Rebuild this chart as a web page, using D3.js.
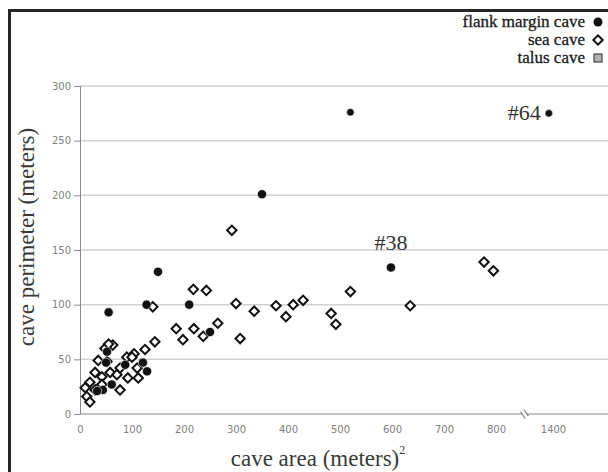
<!DOCTYPE html>
<html>
<head>
<meta charset="utf-8">
<script src="https://cdn.jsdelivr.net/npm/d3@7"></script>
<style>
  html, body { margin: 0; padding: 0; background: #fff; }
  svg { display: block; }
</style>
</head>
<body>
<svg id="chart" width="608" height="472"></svg>
<script>
// Cave area (m²) and perimeter (m) by cave type
const flankArea  = [520, 1392, 350, 598, 150, 55, 128, 210, 250, 52, 50, 87, 121, 129, 61, 44, 33];
const flankPerim = [276,  275, 201, 134, 130, 93, 100, 100,  75, 57, 47, 45,  47,  39, 27, 22, 21];

const seaArea  = [292, 218, 243, 300, 335, 377, 396, 410, 429, 483, 492, 520, 635, 777, 795,
                  185, 219, 198, 237, 265, 308, 140, 144, 125, 104, 90, 63, 48, 35, 52,
                  77, 110, 58, 29, 42, 71, 92, 112, 19, 42, 10, 29, 13, 19, 77, 55, 100];
const seaPerim = [168, 114, 113, 101, 94, 99, 89, 100, 104, 92, 82, 112, 99, 139, 131,
                  78, 78, 68, 71, 83, 69, 98, 66, 59, 55, 52, 63, 60, 49, 48,
                  42, 42, 38, 38, 34, 36, 33, 33, 29, 27, 24, 22, 16, 11, 22, 64, 52];

const talusArea = [];
const talusPerim = [];

const xTicks = [0, 100, 200, 300, 400, 500, 600, 700, 800, 1400];
const yTicks = [0, 50, 100, 150, 200, 250, 300];

const legendLabels = ["flank margin cave", "sea cave", "talus cave"];
const callouts = [{ label: "#38", area: 598, perim: 134 }, { label: "#64", area: 1392, perim: 275 }];

const svg = d3.select("#chart");
const serif = "'Liberation Serif', 'Times New Roman', serif";
const sans = "'DejaVu Sans', sans-serif";

// Broken x scale: 0–850 then jump to 1350+
const x = d3.scaleLinear().domain([0, 850, 1350, 1600]).range([80, 522, 527, 657]);
const y = d3.scaleLinear().domain([0, 300]).range([414, 86]);

// frame
svg.append("rect").attr("x", 9.5).attr("y", 10.5).attr("width", 700).attr("height", 600)
  .attr("fill", "none").attr("stroke", "#262626").attr("stroke-width", 3);

// gridlines
svg.append("g").selectAll("line").data(yTicks.filter(d => d > 0)).join("line")
  .attr("x1", 80).attr("x2", 608)
  .attr("y1", d => y(d)).attr("y2", d => y(d))
  .attr("stroke", "#d2d2d2").attr("stroke-width", 1.5);

// y axis
const yAxis = svg.append("g").attr("transform", "translate(80,0)")
  .call(d3.axisLeft(y).tickValues(yTicks).tickSize(6).tickPadding(3));
yAxis.select(".domain").attr("stroke", "#8a8a8a");
yAxis.selectAll(".tick line").attr("stroke", "#8a8a8a");
yAxis.selectAll("text").attr("fill", "#808080").attr("font-family", sans).attr("font-size", 10);

// x axis
const xAxis = svg.append("g").attr("transform", "translate(0,414)")
  .call(d3.axisBottom(x).tickValues(xTicks).tickFormat(d3.format("d")).tickSize(0).tickPadding(12));
xAxis.select(".domain").attr("d", "M80,0H608").attr("stroke", "#8a8a8a");
xAxis.selectAll("text").attr("fill", "#808080").attr("font-family", sans).attr("font-size", 10);

// axis break mark
const bx = (x(850) + x(1350)) / 2;
const brk = svg.append("g").attr("transform", `translate(${bx},414) rotate(-35)`);
brk.append("rect").attr("x", -2).attr("y", -4).attr("width", 4).attr("height", 8).attr("fill", "#fff");
brk.append("line").attr("x1", -2).attr("x2", -2).attr("y1", -4).attr("y2", 4).attr("stroke", "#777");
brk.append("line").attr("x1", 2).attr("x2", 2).attr("y1", -4).attr("y2", 4).attr("stroke", "#777");

// axis titles
svg.append("text").attr("transform", "translate(34,237) rotate(-90)")
  .attr("text-anchor", "middle").attr("font-family", serif).attr("font-size", 23)
  .attr("fill", "#3a3a3a").text("cave perimeter (meters)");
const xt = svg.append("text").attr("x", 318).attr("y", 466)
  .attr("text-anchor", "middle").attr("font-family", serif).attr("font-size", 23)
  .attr("fill", "#3a3a3a");
xt.append("tspan").text("cave area (meters)");
xt.append("tspan").attr("dy", -12).attr("font-size", 12).text("2");

// markers
const diamond = d3.symbol().type(d3.symbolSquare).size(44);

svg.append("g").selectAll("path")
  .data(seaArea.map((a, i) => [a, seaPerim[i]])).join("path")
  .attr("d", diamond)
  .attr("transform", d => `translate(${x(d[0])},${y(d[1])}) rotate(45)`)
  .attr("fill", "#fff").attr("stroke", "#111").attr("stroke-width", 2);

svg.append("g").selectAll("circle")
  .data(flankArea.map((a, i) => [a, flankPerim[i]])).join("circle")
  .attr("cx", d => x(d[0])).attr("cy", d => y(d[1]))
  .attr("r", d => d[1] > 250 ? 3.8 : 4.6)
  .attr("fill", "#111").attr("stroke", "#fff").attr("stroke-width", 0.6);

svg.append("g").selectAll("rect")
  .data(talusArea.map((a, i) => [a, talusPerim[i]])).join("rect")
  .attr("x", d => x(d[0]) - 4).attr("y", d => y(d[1]) - 4)
  .attr("width", 8).attr("height", 8).attr("fill", "#aaa").attr("stroke", "#333");

// callouts
svg.append("text").attr("x", x(callouts[0].area)).attr("y", y(callouts[0].perim) - 17)
  .attr("text-anchor", "middle").attr("font-family", serif).attr("font-size", 22)
  .attr("fill", "#333").text(callouts[0].label);
svg.append("text").attr("x", x(callouts[1].area) - 8).attr("y", y(callouts[1].perim) + 7)
  .attr("text-anchor", "end").attr("font-family", serif).attr("font-size", 22)
  .attr("fill", "#333").text(callouts[1].label);

// legend
const lg = svg.append("g");
const rows = [22, 40, 58];
legendLabels.forEach((t, i) => {
  lg.append("text").attr("x", 585).attr("y", rows[i] + 5).attr("text-anchor", "end")
    .attr("font-family", serif).attr("font-size", 17).attr("fill", "#1a1a1a")
    .attr("stroke", "#1a1a1a").attr("stroke-width", 0.3).text(t);
});
lg.append("circle").attr("cx", 598).attr("cy", rows[0]).attr("r", 4.5).attr("fill", "#111");
lg.append("path").attr("d", diamond).attr("transform", `translate(598,${rows[1]}) rotate(45)`)
  .attr("fill", "#fff").attr("stroke", "#111").attr("stroke-width", 2);
lg.append("rect").attr("x", 594).attr("y", rows[2] - 4).attr("width", 8).attr("height", 8)
  .attr("fill", "#b0b0b0").attr("stroke", "#444").attr("stroke-width", 1.2);
</script>
</body>
</html>
